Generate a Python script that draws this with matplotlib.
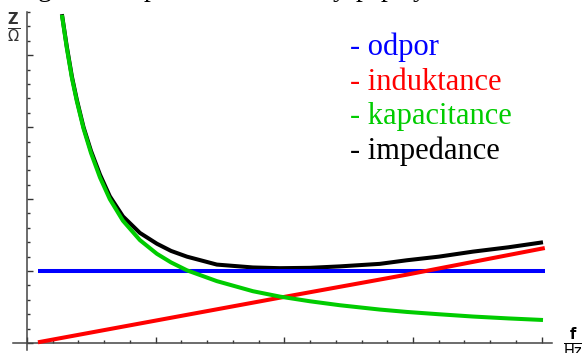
import numpy as np
import matplotlib.pyplot as plt
from matplotlib.ticker import MultipleLocator

# values (x in minor-tick units, y in major-tick units)
odpor_f = [0.43, 20.12]
odpor_z = [1.0, 1.0]

indukt_f = [0.43, 9.83, 14.76, 20.12]
indukt_z = [0.01, 0.63, 0.95, 1.32]

kapac_f = [1.36, 1.55, 1.75, 1.94, 2.2, 2.49, 2.84, 3.22, 3.73, 4.39, 5.05, 5.6,
           6.22, 7.38, 8.78, 9.83, 11.0, 12.16, 13.71, 14.76, 16.0, 17.33, 18.7, 20.05]
kapac_z = [4.56, 4.10, 3.68, 3.36, 2.98, 2.64, 2.30, 2.00, 1.70, 1.43, 1.24, 1.12,
           1.01, 0.86, 0.72, 0.645, 0.58, 0.525, 0.465, 0.432, 0.40, 0.368, 0.342, 0.32]

imped_f = kapac_f
imped_z = [4.57, 4.12, 3.70, 3.38, 3.00, 2.67, 2.34, 2.04, 1.76, 1.53, 1.38, 1.28,
           1.20, 1.09, 1.05, 1.04, 1.045, 1.065, 1.10, 1.15, 1.20, 1.27, 1.33, 1.40]

legend_labels = ['- odpor', '- induktance', '- kapacitance', '- impedance']
# bits of a caption line above, cut off by the picture edge
cut_text = [('g', 38), ('p', 144), ('y', 333), ('p', 356), ('p', 381), ('y', 413)]

blue = '#0000ff'
red = '#ff0000'
green = '#00cc00'
black = '#000000'

W, H = 582, 353
fig = plt.figure(figsize=(W / 100, H / 100), dpi=100)
ax = fig.add_axes([13 / W, (H - 350) / H, (552 - 13) / W, (350 - 12) / H])

lw = 2.9
ax.plot(odpor_f, odpor_z, color=blue, lw=lw, solid_capstyle='butt', zorder=3)
ax.plot(indukt_f, indukt_z, color=red, lw=lw, solid_capstyle='butt', zorder=3)
ax.plot(imped_f, imped_z, color=black, lw=lw, solid_capstyle='butt', zorder=2)
ax.plot(kapac_f, kapac_z, color=green, lw=lw, solid_capstyle='butt', zorder=3)

ax.set_xlim(-0.54, 20.4)
ax.set_ylim(-0.097, 4.6)

for side in ['top', 'right']:
    ax.spines[side].set_visible(False)
for side in ['left', 'bottom']:
    ax.spines[side].set_position(('data', 0))
    ax.spines[side].set_color('#444444')
    ax.spines[side].set_linewidth(1.1)

ax.xaxis.set_major_locator(MultipleLocator(5))
ax.xaxis.set_minor_locator(MultipleLocator(1))
ax.yaxis.set_major_locator(MultipleLocator(1))
ax.yaxis.set_minor_locator(MultipleLocator(0.2))
ax.tick_params(which='both', direction='in', labelbottom=False, labelleft=False,
               color='#333333', width=1.0)
ax.tick_params(which='major', length=4)
ax.tick_params(which='minor', length=2.5)

# axis labels as small fractions
fig.text(14 / W, 1 - 28 / H, r'$\frac{\mathbf{Z}}{\Omega}$', fontsize=15,
         ha='center', va='center', color='#333333')
fig.text(573 / W, 1 - 343 / H, r'$\frac{\mathbf{f}}{\mathrm{Hz}}$', fontsize=15,
         ha='center', va='center', color='black')

colors = [blue, red, green, black]
for i, (lab, c) in enumerate(zip(legend_labels, colors)):
    fig.text(350 / W, 1 - (55 + 34.5 * i) / H, lab, color=c, fontsize=22,
             family='Liberation Serif', ha='left', va='baseline')

for ch, px in cut_text:
    fig.text(px / W, 1 + 4 / H, ch, fontsize=20, family='Liberation Serif',
             ha='left', va='baseline')

fig.savefig('out.png', dpi=100)
